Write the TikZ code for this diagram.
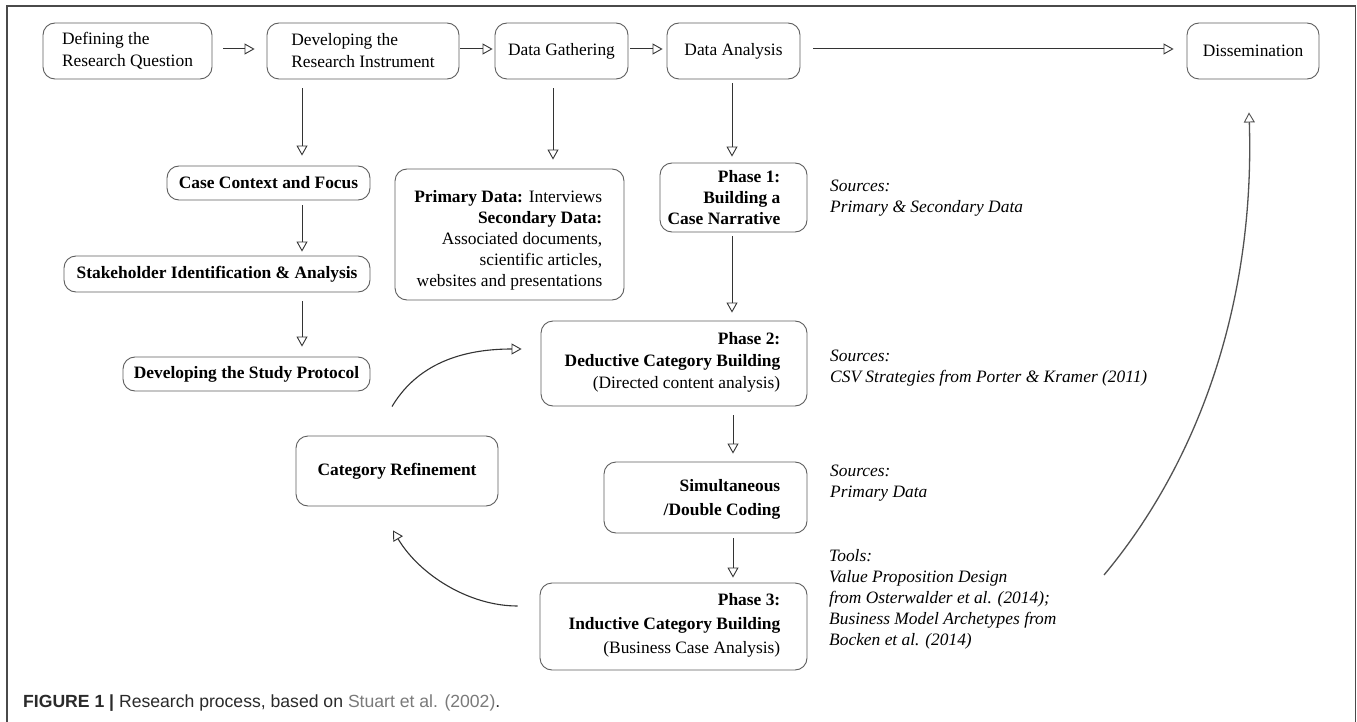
\documentclass[tikz,border=0pt]{standalone}
\usepackage{fontspec}
\setmainfont{Liberation Serif}
\setsansfont{Liberation Sans}
\usetikzlibrary{arrows.meta,calc}
\definecolor{boxgray}{HTML}{5E5E5E}
\definecolor{arrgray}{HTML}{333333}
\definecolor{framegray}{HTML}{4A4A4A}
\definecolor{capdark}{HTML}{2A2A2A}
\definecolor{capgray}{HTML}{7A7A7A}
\newcommand\fsA{\fontsize{17.4}{22}\selectfont}
\newcommand\fsB{\fontsize{17.4}{21}\selectfont}
\newcommand\fsC{\fontsize{17.4}{24}\selectfont}
\begin{document}
\begin{tikzpicture}[x=1pt,y=-1pt,
  box/.style={draw=boxgray, line width=0.9pt, rounded corners=12pt, inner sep=0pt, font=\fsA, text=black},
  bbox/.style={box, font=\fsA\bfseries},
  txt/.style={inner sep=0pt, align=right, text=black},
  src/.style={inner sep=0pt, align=left, font=\fsB\itshape, text=black, anchor=west},
  arr/.style={draw=arrgray, line width=1pt, -{Triangle[open, length=10pt, width=11pt, line width=0.9pt]}},
  carr/.style={arr, line width=1.1pt}
]
\fill[white] (0,0) rectangle (1357,722);
\useasboundingbox (0,0) rectangle (1357,722);
\draw[framegray, line width=1.5pt] (7,722) -- (7,6) -- (1355.5,6) -- (1355.5,722);

% top row
\node[box, minimum width=169pt, minimum height=56pt, align=left] (def) at (127.5,51) {Defining the\\Research Question};
\node[box, minimum width=192pt, minimum height=56pt, align=left] (dev) at (363,51) {Developing the\\Research Instrument};
\node[box, minimum width=133pt, minimum height=56pt] (gat) at (561.5,51) {Data Gathering};
\node[box, minimum width=133pt, minimum height=56pt] (ana) at (733.5,51) {Data Analysis};
\node[box, minimum width=132pt, minimum height=56pt] (dis) at (1253,51) {Dissemination};

% left column
\node[bbox, minimum width=203pt, minimum height=34pt] (ctx) at (268.5,183) {Case Context and Focus};
\node[bbox, minimum width=306pt, minimum height=36pt] (stk) at (217,274) {Stakeholder Identification \& Analysis};
\node[bbox, minimum width=247pt, minimum height=34pt] (pro) at (246.5,374) {Developing the Study Protocol};
\node[bbox, minimum width=202pt, minimum height=70pt] (ref) at (397,471) {Category Refinement};

% data box
\node[box, minimum width=229pt, minimum height=131pt] (prim) at (509.5,234.5) {};
\node[txt, font=\fsB, anchor=east] (primt) at ([xshift=-22pt, yshift=-5.5pt]prim.east)
  {\textbf{Primary Data:} Interviews\\\textbf{Secondary Data:}\\Associated documents,\\scientific articles,\\websites and presentations};

% phases
\node[box, minimum width=147pt, minimum height=69pt] (ph1) at (733.5,197.5) {};
\node[txt, font=\fsB\bfseries, anchor=east] (ph1t) at ([xshift=-27pt]ph1.east) {Phase 1:\\Building a\\Case Narrative};
\node[box, minimum width=266pt, minimum height=85pt] (ph2) at (674,363.5) {};
\node[txt, font=\fsA, anchor=east] (ph2t) at ([xshift=-27pt, yshift=1.5pt]ph2.east) {\textbf{Phase 2:}\\\textbf{Deductive Category Building}\\(Directed content analysis)};
\node[box, minimum width=203pt, minimum height=71pt] (sim) at (705.5,497.5) {};
\node[txt, font=\fsC\bfseries, anchor=east] (simt) at ([xshift=-27pt, yshift=-1.5pt]sim.east) {Simultaneous\\/Double Coding};
\node[box, minimum width=267pt, minimum height=87pt] (ph3) at (673.5,626.5) {};
\node[txt, font=\fsC, anchor=east] (ph3t) at ([xshift=-27pt, yshift=1.5pt]ph3.east) {\textbf{Phase 3:}\\\textbf{Inductive Category Building}\\(Business Case Analysis)};

% sources
\node[src] (s1) at (830,198.5) {Sources:\\Primary \& Secondary Data};
\node[src] (s2) at (830,368.5) {Sources:\\CSV Strategies from Porter \& Kramer (2011)};
\node[src] (s3) at (830,483.5) {Sources:\\Primary Data};
\node[src] (s4) at (829,599.5) {Tools:\\Value Proposition Design\\from Osterwalder et al. (2014);\\Business Model Archetypes from\\Bocken et al. (2014)};

% caption
\node[anchor=base west, inner sep=0pt, font=\sffamily\fontsize{17.6}{22}\selectfont, text=capdark] (cap) at (23,707)
  {\textbf{FIGURE 1 |} Research process, based on \textcolor{capgray}{Stuart et al. (2002)}.};

% top arrows
\draw[arr, shorten <=11pt, shorten >=12pt] ([yshift=2pt]def.east) -- ([yshift=2pt]dev.west);
\draw[arr, shorten <=1pt, shorten >=2pt] ([yshift=2pt]dev.east) -- ([yshift=2pt]gat.west);
\draw[arr, shorten <=2pt, shorten >=4pt] ([yshift=2pt]gat.east) -- ([yshift=2pt]ana.west);
\draw[arr, shorten <=13pt, shorten >=13pt] ([yshift=2pt]ana.east) -- ([yshift=2pt]dis.west);

% vertical arrows
\coordinate (ax1) at (302,0);
\coordinate (ax2) at (553,0);
\coordinate (ax3) at (732,0);
\coordinate (ax4) at (733,0);
\draw[arr, shorten <=9pt, shorten >=10pt] (dev.south -| ax1) -- (ctx.north -| ax1);
\draw[arr, shorten <=5pt, shorten >=4pt] (ctx.south -| ax1) -- (stk.north -| ax1);
\draw[arr, shorten <=9pt, shorten >=10pt] (stk.south -| ax1) -- (pro.north -| ax1);
\draw[arr, shorten <=9pt, shorten >=9pt] (gat.south -| ax2) -- (prim.north -| ax2);
\draw[arr, shorten <=4pt, shorten >=6pt] (ana.south -| ax3) -- (ph1.north -| ax3);
\draw[arr, shorten <=4pt, shorten >=8pt] (ph1.south -| ax3) -- (ph2.north -| ax3);
\draw[arr, shorten <=9pt, shorten >=8pt] (ph2.south -| ax4) -- (sim.north -| ax4);
\draw[arr, shorten <=5pt, shorten >=5pt] (sim.south -| ax4) -- (ph3.north -| ax4);

% curved arrows
\coordinate (c1s) at ([xshift=-5pt, yshift=29pt]ref.north);
\coordinate (c1e) at ([xshift=-19pt, yshift=14.5pt]ph2.west);
\draw[carr] (c1s) .. controls +(28,-47) and +(-52,0) .. (c1e);
\coordinate (c2s) at ([xshift=-22pt, yshift=20.5pt]ph3.west);
\coordinate (c2e) at ([xshift=-4pt, yshift=-24pt]ref.south);
\draw[carr] (c2s) .. controls +(-48,0) and +(27,45) .. (c2e);
\coordinate (c3s) at (1104,575);
\coordinate (c3e) at ([xshift=-4pt, yshift=-33pt]dis.south);
\draw[carr, line width=1.3pt, draw=arrgray!85] (c3s) .. controls +(96,-115) and +(6,188) .. (c3e);
\end{tikzpicture}
\end{document}
